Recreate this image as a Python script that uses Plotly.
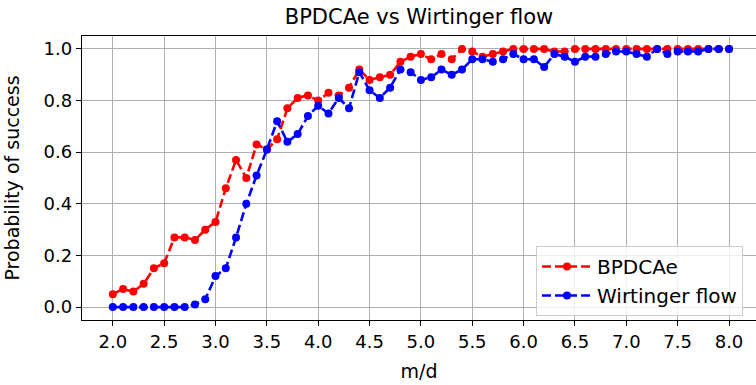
import plotly.graph_objects as go

md = [2.0, 2.1, 2.2, 2.3, 2.4, 2.5, 2.6, 2.7, 2.8, 2.9,
      3.0, 3.1, 3.2, 3.3, 3.4, 3.5, 3.6, 3.7, 3.8, 3.9,
      4.0, 4.1, 4.2, 4.3, 4.4, 4.5, 4.6, 4.7, 4.8, 4.9,
      5.0, 5.1, 5.2, 5.3, 5.4, 5.5, 5.6, 5.7, 5.8, 5.9,
      6.0, 6.1, 6.2, 6.3, 6.4, 6.5, 6.6, 6.7, 6.8, 6.9,
      7.0, 7.1, 7.2, 7.3, 7.4, 7.5, 7.6, 7.7, 7.8, 7.9, 8.0]

bpdcae = [0.05, 0.07, 0.06, 0.09, 0.15, 0.17, 0.27, 0.27, 0.26, 0.30,
          0.33, 0.46, 0.57, 0.50, 0.63, 0.61, 0.65, 0.77, 0.81, 0.82,
          0.80, 0.83, 0.82, 0.85, 0.92, 0.88, 0.89, 0.90, 0.95, 0.97,
          0.98, 0.96, 0.98, 0.96, 1.00, 0.99, 0.97, 0.98, 0.99, 1.00,
          1.00, 1.00, 1.00, 0.99, 0.99, 1.00, 1.00, 1.00, 1.00, 1.00,
          1.00, 1.00, 1.00, 1.00, 1.00, 1.00, 1.00, 1.00, 1.00, 1.00, 1.00]

wirtinger = [0.00, 0.00, 0.00, 0.00, 0.00, 0.00, 0.00, 0.00, 0.01, 0.03,
             0.12, 0.15, 0.27, 0.40, 0.51, 0.61, 0.72, 0.64, 0.67, 0.74,
             0.78, 0.75, 0.81, 0.77, 0.91, 0.84, 0.81, 0.85, 0.92, 0.91,
             0.88, 0.89, 0.92, 0.90, 0.92, 0.96, 0.96, 0.95, 0.96, 0.98,
             0.96, 0.96, 0.93, 0.98, 0.97, 0.95, 0.97, 0.97, 0.98, 0.99,
             0.99, 0.98, 0.97, 1.00, 0.98, 0.99, 0.99, 0.99, 1.00, 1.00, 1.00]

x_ticks = [2.0, 2.5, 3.0, 3.5, 4.0, 4.5, 5.0, 5.5, 6.0, 6.5, 7.0, 7.5, 8.0]
y_ticks = [0.0, 0.2, 0.4, 0.6, 0.8, 1.0]

FONT = "DejaVu Sans"
W, H = 756, 385
L, R, T, B = 82, 0, 36, 65

fig = go.Figure()
fig.add_trace(go.Scatter(
    x=md, y=bpdcae, name="BPDCAe", mode="lines+markers",
    line=dict(color="#ff0000", width=2.6, dash="9px,4px"),
    marker=dict(color="#ff0000", size=8),
))
fig.add_trace(go.Scatter(
    x=md, y=wirtinger, name="Wirtinger flow", mode="lines+markers",
    line=dict(color="#0000ff", width=2.6, dash="9px,4px"),
    marker=dict(color="#0000ff", size=8),
))

fig.update_layout(
    width=W, height=H,
    margin=dict(l=L, r=R, t=T, b=B, pad=0, autoexpand=False),
    plot_bgcolor="white", paper_bgcolor="white",
    font=dict(family=FONT, size=18, color="black"),
    title=dict(text="BPDCAe vs Wirtinger flow", font=dict(family=FONT, size=21, color="black"),
               x=0.5, xref="paper", xanchor="center", y=1 - 17 / H, yref="container", yanchor="middle"),
    showlegend=True,
    legend=dict(x=(536 - L) / (W - L - R), y=(320 - 316) / (H - T - B), xanchor="left", yanchor="bottom",
                bgcolor="rgba(255,255,255,0.8)", bordercolor="#cccccc", borderwidth=1,
                font=dict(family=FONT, size=20, color="black"), itemwidth=50,
                tracegroupgap=0),
)

fig.update_xaxes(
    range=[1.7, 1.7 + (W - L) / 102.7],
    tickvals=x_ticks, tickformat=".1f", automargin=False,
    showgrid=True, gridcolor="#b0b0b0", gridwidth=1.3,
    showline=True, linecolor="black", linewidth=1.3, mirror=True,
    ticks="outside", ticklen=5, tickwidth=1.3, tickcolor="black",
    zeroline=False,
    tickfont=dict(family=FONT, size=18, color="black"),
    title=dict(text="m/d", font=dict(family=FONT, size=19, color="black"), standoff=13),
)
fig.update_yaxes(
    range=[-0.05, 1.05],
    tickvals=y_ticks, tickformat=".1f", automargin=False,
    showgrid=True, gridcolor="#b0b0b0", gridwidth=1.3,
    showline=True, linecolor="black", linewidth=1.3, mirror=False,
    ticks="outside", ticklen=5, tickwidth=1.3, tickcolor="black",
    zeroline=False,
    tickfont=dict(family=FONT, size=18, color="black"),
    title=dict(text="Probability of success", font=dict(family=FONT, size=19, color="black"), standoff=18),
)

fig.write_html("out.html", config={"displayModeBar": False},
               post_script="document.body.style.margin='0';document.body.style.overflow='hidden';")
